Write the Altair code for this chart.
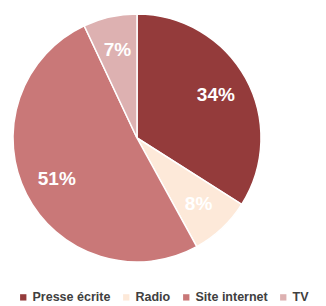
import altair as alt
import pandas as pd

categories = ["Presse écrite", "Radio", "Site internet", "TV"]
values = [34, 8, 51, 7]
labels = ["34%", "8%", "51%", "7%"]
colors = ["#943b3b", "#fde9d9", "#c97878", "#ddb1b1"]

df = pd.DataFrame({"cat": categories, "val": values, "lab": labels, "ord": list(range(len(categories)))})

cx, cy, R = 129, 130, 124

base = alt.Chart(df).encode(
    theta=alt.Theta("val:Q", stack=True),
    order=alt.Order("ord:Q"),
)

arc = base.mark_arc(outerRadius=R, stroke="white", strokeWidth=1.5, x=cx, y=cy).encode(
    color=alt.Color(
        "cat:N",
        scale=alt.Scale(domain=categories, range=colors),
        sort=categories,
        legend=alt.Legend(
            title=None,
            orient="none",
            legendX=9,
            legendY=283,
            direction="horizontal",
            symbolType="square",
            symbolSize=40,
            symbolStrokeWidth=0,
            labelFont="Liberation Sans",
            labelFontSize=12.5,
            labelFontWeight="bold",
            labelColor="#404040",
            columnPadding=9,
            labelOffset=3,
        ),
    )
)

text = base.mark_text(
    radius=90, x=cx, y=cy, font="Liberation Sans", fontSize=19, fontWeight="bold", color="white"
).encode(text="lab:N")

chart = (arc + text).properties(
    width=310, height=298, padding=0, autosize=alt.AutoSizeParams(type="none")
).configure_view(stroke=None)

chart.save("out.html", embed_options={"renderer": "svg", "actions": False})
